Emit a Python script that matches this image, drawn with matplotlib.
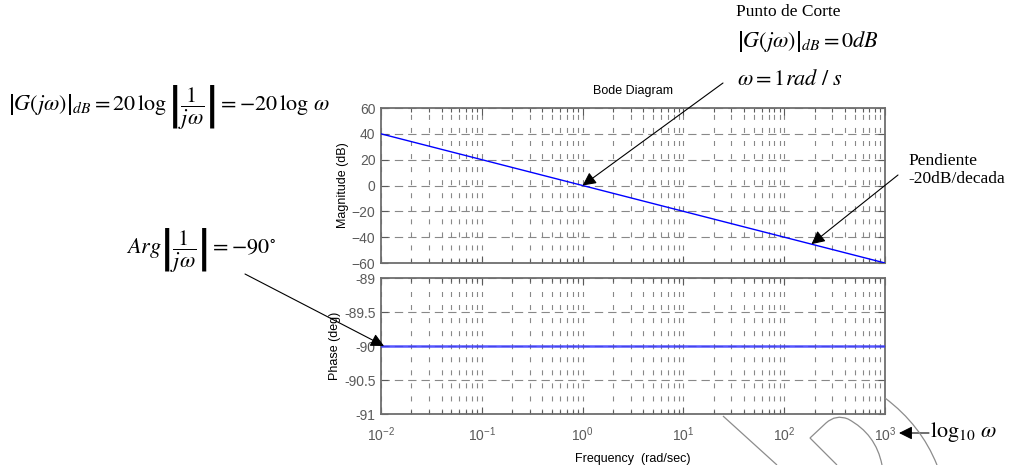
import matplotlib
matplotlib.use("Agg")
import matplotlib.pyplot as plt
from matplotlib.path import Path
from matplotlib.patches import PathPatch, FancyArrowPatch
from matplotlib.ticker import LogLocator, FixedLocator
import numpy as np

plt.rcParams['font.family'] = ['Liberation Sans', 'DejaVu Sans']
plt.rcParams['mathtext.fontset'] = 'stix'
plt.rcParams['lines.scale_dashes'] = False

# ---- data ----
freq = [1e-2, 1e-1, 1e0, 1e1, 1e2, 1e3]          # rad/sec
magnitude_db = [40, 20, 0, -20, -40, -60]       # dB
phase_deg = [-90, -90, -90, -90, -90, -90]      # deg
mag_ticks = [60, 40, 20, 0, -20, -40, -60]
phase_ticks = [-89, -89.5, -90, -90.5, -91]
phase_labels = ['-89', '-89.5', '-90', '-90.5', '-91']

W, H = 1016, 465
fig = plt.figure(figsize=(W / 100, H / 100), dpi=100)


def fx(x):
    return x / W


def fy(y):
    return 1 - y / H


GRAY = '#6e6e6e'
TICKC = '#5a5a5a'

ax1 = fig.add_axes([fx(381), fy(263), fx(885) - fx(381), fy(108) - fy(263)])
ax2 = fig.add_axes([fx(381), fy(414), fx(885) - fx(381), fy(278) - fy(414)])

ax1.semilogx(freq, magnitude_db, color='#0000ff', lw=1.0, zorder=3)
ax2.semilogx(freq, phase_deg, color='#3a3aff', lw=1.8, alpha=0.85, zorder=3)

for ax in (ax1, ax2):
    ax.set_xlim(1e-2, 1e3)
    ax.xaxis.set_major_locator(LogLocator(base=10, numticks=10))
    ax.xaxis.set_minor_locator(LogLocator(base=10, subs=np.arange(2, 10), numticks=20))
    ax.tick_params(which='both', direction='in', top=True, right=True,
                   colors=TICKC, labelcolor=TICKC, labelsize=10)
    ax.tick_params(which='major', length=5, width=0.8, pad=4)
    ax.tick_params(which='minor', length=3, width=0.8)
    for s in ax.spines.values():
        s.set_color(GRAY)
        s.set_linewidth(1.3)
    ax.grid(axis='y', which='major', color='#888888', lw=0.8, ls=(0, (6, 3.6)))
    ax.grid(axis='x', which='both', color='#888888', lw=0.8, ls=(0, (3.6, 5.8)))
    ax.set_axisbelow(True)

ax1.set_ylim(-60, 60)
ax1.yaxis.set_major_locator(FixedLocator(mag_ticks))
ax1.tick_params(labelbottom=False)
ax1.set_ylabel('Magnitude (dB)', fontsize=9, labelpad=2)
ax1.set_title('Bode Diagram', fontsize=9, pad=10)

ax2.set_ylim(-91, -89)
ax2.set_yticks(phase_ticks)
ax2.set_yticklabels(phase_labels)
ax2.tick_params(axis='x', pad=8)
ax2.set_ylabel('Phase (deg)', fontsize=9, labelpad=2)
ax2.set_xlabel('Frequency  (rad/sec)', fontsize=9, labelpad=7)

SERIF = ['Liberation Serif', 'DejaVu Serif']
TXT = dict(color='black', fontsize=16, family=SERIF)
arrow = dict(arrowstyle='-|>', mutation_scale=20, color='black', lw=0.8,
             shrinkA=0, shrinkB=0)

# top-left formula
fig.text(fx(8), fy(107),
         r'$\left|G\left(j\omega\right)\right|_{dB} = 20\,\log\left|\dfrac{1}{j\omega}\right| = -20\,\log\,\omega$',
         ha='left', va='center', **TXT)

# Punto de corte
fig.text(fx(736), fy(12), 'Punto de Corte', ha='left', va='center',
         fontsize=12.5, family=SERIF)
fig.text(fx(737), fy(42), r'$\left|G\left(j\omega\right)\right|_{dB} = 0dB$',
         ha='left', va='center', **TXT)
fig.text(fx(737), fy(80), r'$\omega = 1rad\ /\ s$', ha='left', va='center', **TXT)
ax1.annotate('', xy=(1.0, 0), xycoords='data',
             xytext=(fx(723), fy(83)), textcoords='figure fraction',
             arrowprops=arrow, annotation_clip=False)

# Pendiente
fig.text(fx(908), fy(170), 'Pendiente\n-20dB/decada', ha='left', va='center',
         fontsize=12.5, linespacing=1.2, family=SERIF)
ax1.annotate('', xy=(10 ** 2.27, -45.4), xycoords='data',
             xytext=(fx(898), fy(175)), textcoords='figure fraction',
             arrowprops=arrow, annotation_clip=False)

# Arg
fig.text(fx(126), fy(250), r'$Arg\left|\dfrac{1}{j\omega}\right| = -90^{\circ}$',
         ha='left', va='center', **TXT)
ax2.annotate('', xy=(10 ** -1.97, -90), xycoords='data',
             xytext=(fx(245), fy(274)), textcoords='figure fraction',
             arrowprops=arrow, annotation_clip=False)

# log10 omega
fig.text(fx(930), fy(432), r'$\log_{10}\,\omega$', ha='left', va='center', **TXT)
fig.add_artist(FancyArrowPatch(
    (fx(929), fy(433)), (fx(899), fy(433)), transform=fig.transFigure,
    **arrow))


# decorative gray strokes
def fig_path(verts, codes):
    v = [(fx(x), fy(y)) for x, y in verts]
    p = PathPatch(Path(v, codes), transform=fig.transFigure, fill=False,
                  edgecolor='#8c8c8c', lw=0.9)
    fig.add_artist(p)


fig_path([(723, 416), (777, 465)], [Path.MOVETO, Path.LINETO])
fig_path([(837, 465), (810, 438), (826, 423), (836, 414), (848, 419),
          (876, 434), (882, 465)],
         [Path.MOVETO, Path.LINETO, Path.LINETO, Path.CURVE3, Path.CURVE3,
          Path.CURVE3, Path.CURVE3])
fig_path([(885, 398), (921, 425), (937, 465)],
         [Path.MOVETO, Path.CURVE3, Path.CURVE3])

fig.savefig('out.png', dpi=100)
